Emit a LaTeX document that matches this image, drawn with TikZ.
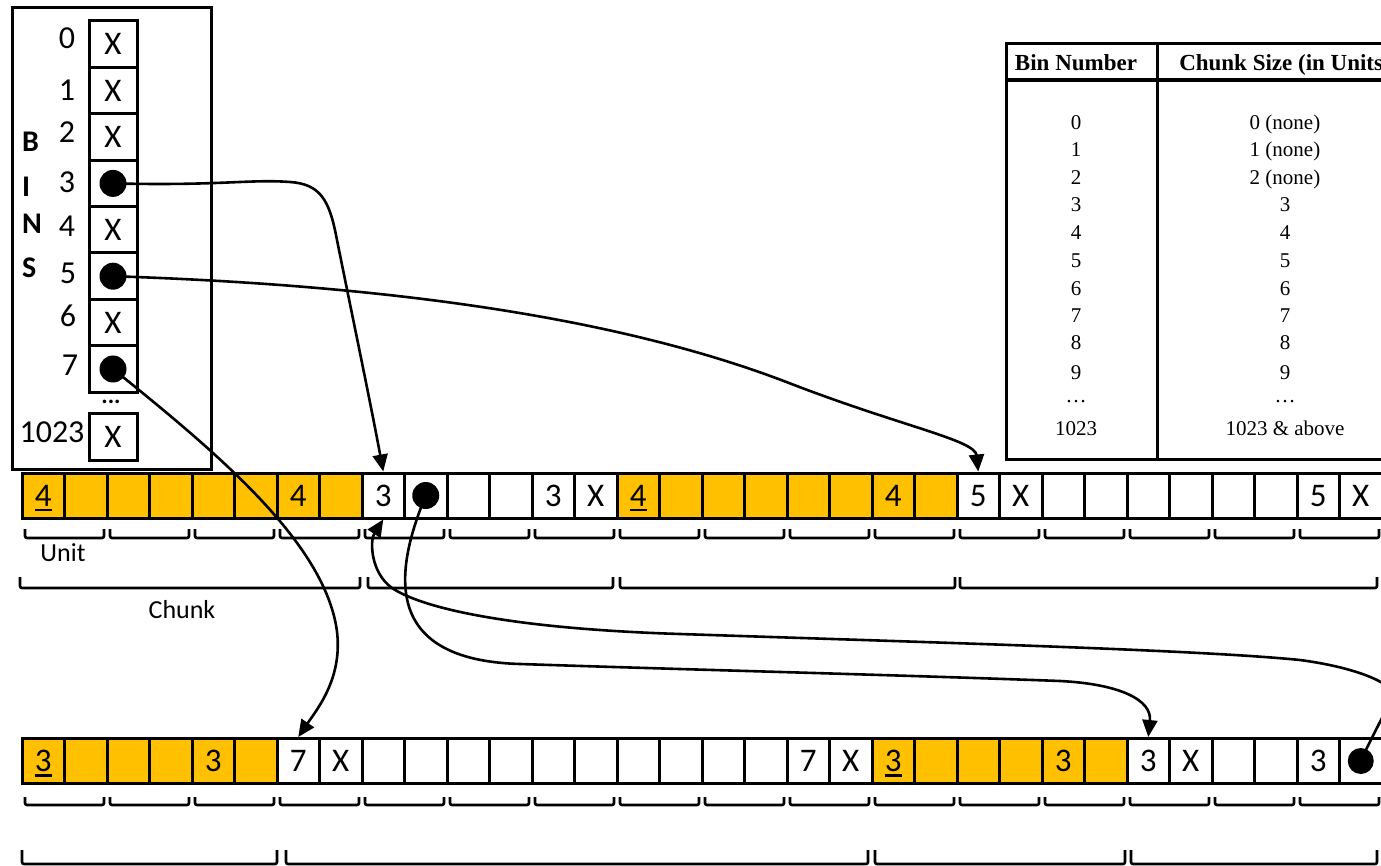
\documentclass[tikz,border=0pt]{standalone}
\usepackage{fontspec}
\setmainfont{Carlito}
\newfontfamily\tabfont{Liberation Serif}
\usetikzlibrary{arrows.meta}
\definecolor{gold}{HTML}{FFC000}
\newcommand\myul[1]{\setbox0=\hbox{#1}\rlap{\raisebox{-5pt}{\rule{\wd0}{2.2pt}}}\box0}
\newcommand\mybrk[4]{\draw[brk] (#1,#3) -- (#1,#4) -- (#2,#4) -- (#2,#3);}
\begin{document}
\begin{tikzpicture}[x=1pt,y=-1pt,
  cellbox/.style={draw=black, line width=3pt, minimum width=42.5pt, minimum height=45pt, inner sep=0pt, font=\fontsize{33}{36}\selectfont, text height=21pt, text depth=0pt},
  yel/.style={cellbox, fill=gold},
  wht/.style={cellbox, fill=white},
  bincell/.style={draw=black, line width=3pt, minimum width=48pt, minimum height=46.4pt, inner sep=0pt, fill=white, font=\fontsize{33}{36}\selectfont, text height=21pt, text depth=0pt},
  dotnode/.style={circle, fill=black, minimum size=27pt, inner sep=0pt},
  binlbl/.style={font=\fontsize{32}{36}\selectfont, inner sep=0pt},
  binletter/.style={font=\bfseries\fontsize{30}{34}\selectfont, inner sep=0pt, anchor=west},
  tabtxt/.style={font=\tabfont\fontsize{21}{24}\selectfont, inner sep=0pt, text height=14pt, text depth=0pt},
  tabhead/.style={font=\tabfont\bfseries\fontsize{23}{26}\selectfont, inner sep=0pt, text height=15pt, text depth=0pt},
  link/.style={line width=2.6pt, -{Triangle[length=17pt,width=15pt]}},
  brk/.style={line width=2.6pt, rounded corners=2pt},
  lbl/.style={font=\fontsize{26}{30}\selectfont, inner sep=0pt}
]
\clip (0,0) rectangle (1381,866);
\fill[white] (0,0) rectangle (1381,866);

% ---------- table ----------
\draw[line width=3pt] (1006,44) rectangle (1420,459);
\draw[line width=4pt] (1006,80) -- (1420,80);
\draw[line width=3pt] (1157,44) -- (1157,459);
\node[tabhead] (h1) at (1076,63) {Bin Number};
\node[tabhead] (h2) at (1285,63) {Chunk Size (in Units)};
\foreach \r/\yy/\a/\b in {0/123/0/{0 (none)},1/150/1/{1 (none)},2/178/2/{2 (none)},3/205/3/3,4/233/4/4,5/261/5/5,6/289/6/6,7/316/7/7,8/343/8/8,9/372/9/9,10/428/1023/{1023 \& above}}{
  \node[tabtxt] (ra\r) at (1076,\yy) {\a};
  \node[tabtxt] (rb\r) at (1285,\yy) {\b};
}
\node[tabtxt, text height=3pt] (radots) at (1076,401) {…};
\node[tabtxt, text height=3pt] (rbdots) at (1285,401) {…};

% ---------- bins ----------
\draw[line width=3pt] (12,8) rectangle (211,469);
\foreach \k/\t in {0/X,1/X,2/X,3/{},4/X,5/{},6/X,7/{}}
  \node[bincell] (bin\k) at (113,{44.2+\k*46.4}) {\t};
\node[bincell] (bin1023) at (113,437) {X};
\node[dotnode] (db3) at (bin3.center) {};
\node[dotnode] (db5) at (bin5.center) {};
\node[dotnode] (db7) at (bin7.center) {};
\foreach \k/\yy/\xx in {0/38/67,1/90/67,2/132/67,3/182/67,4/226/67,5/273/68,6/316/68,7/365/70}
  \node[binlbl] (bl\k) at (\xx,\yy) {\k};
\node[binlbl] (bl1023) at (52,432) {1023};
\node[font=\bfseries\fontsize{24}{24}\selectfont, inner sep=0pt] (bdots) at (111,402) {...};
\node[binletter] (lB) at (22,142) {B};
\node[binletter] (lI) at (22,187) {I};
\node[binletter] (lN) at (22,224) {N};
\node[binletter] (lS) at (22,268) {S};

% ---------- top strip ----------
\foreach \i/\t/\s in {0/{\myul{4}}/yel,1/{}/yel,2/{}/yel,3/{}/yel,4/{}/yel,5/{}/yel,6/4/yel,7/{}/yel,
  8/3/wht,9/{}/wht,10/{}/wht,11/{}/wht,12/3/wht,13/X/wht,
  14/{\myul{4}}/yel,15/{}/yel,16/{}/yel,17/{}/yel,18/{}/yel,19/{}/yel,20/4/yel,21/{}/yel,
  22/5/wht,23/X/wht,24/{}/wht,25/{}/wht,26/{}/wht,27/{}/wht,28/{}/wht,29/{}/wht,30/5/wht,31/X/wht}
  \node[\s] (t\i) at ({22+(\i+0.5)*42.5},495.5) {\t};
\node[dotnode] (dt9) at (t9.center) {};

% ---------- bottom strip ----------
\foreach \i/\t/\s in {0/{\myul{3}}/yel,1/{}/yel,2/{}/yel,3/{}/yel,4/3/yel,5/{}/yel,
  6/7/wht,7/X/wht,8/{}/wht,9/{}/wht,10/{}/wht,11/{}/wht,12/{}/wht,13/{}/wht,14/{}/wht,15/{}/wht,16/{}/wht,17/{}/wht,18/7/wht,19/X/wht,
  20/{\myul{3}}/yel,21/{}/yel,22/{}/yel,23/{}/yel,24/3/yel,25/{}/yel,
  26/3/wht,27/X/wht,28/{}/wht,29/{}/wht,30/3/wht,31/{}/wht}
  \node[\s] (b\i) at ({22+(\i+0.5)*42.5},761) {\t};
\node[dotnode, minimum size=26pt] (db31) at (b31.center) {};

% ---------- brackets ----------
\foreach \k in {0,...,15}{
  \mybrk{\fpeval{22+85*\k+3}}{\fpeval{22+85*(\k+1)-3}}{529}{538}
  \mybrk{\fpeval{22+85*\k+3}}{\fpeval{22+85*(\k+1)-3}}{797}{805}
}
\mybrk{20}{360}{577}{588}
\mybrk{368}{613}{577}{588}
\mybrk{620}{955}{577}{588}
\mybrk{960}{1377}{577}{588}
\mybrk{22}{277}{850}{864}
\mybrk{286}{868}{850}{864}
\mybrk{875}{1125}{850}{864}
\mybrk{1131}{1377}{850}{864}
\node[lbl] (unit) at (63,553) {Unit};
\node[lbl] (chunk) at (182,610) {Chunk};

% ---------- connectors ----------
\draw[link] (db3.center) .. controls (220,186) and (250,179) .. (290,182)
  .. controls (320,184) and (329,200) .. (336,235)
  .. controls (350,305) and (370,400) .. (t8.north);
\draw[link] (db5.center) .. controls (350,284) and (600,310) .. (789,383)
  .. controls (900,426) and (975,440) .. (t22.north);
\draw[link] (db7.center) .. controls (220,455) and (320,540) .. (336,625)
  .. controls (345,675) and (318,708) .. (b6.north);
\draw[link] (dt9.center) .. controls (395,570) and (380,660) .. (520,664)
  .. controls (700,670) and (900,675) .. (1060,681)
  .. controls (1120,684) and (1152,700) .. (b26.north);
\coordinate (turn) at (1392,696);
\draw[link] (db31.center) .. controls (1370,740) and (1386,712) .. (turn)
  .. controls (1396,685) and (1360,668) .. (1300,660)
  .. controls (1200,650) and (950,643) .. (680,634)
  .. controls (520,629) and (425,610) .. (392,588)
  .. controls (370,572) and (370,540) .. (t8.south);
\end{tikzpicture}
\end{document}
